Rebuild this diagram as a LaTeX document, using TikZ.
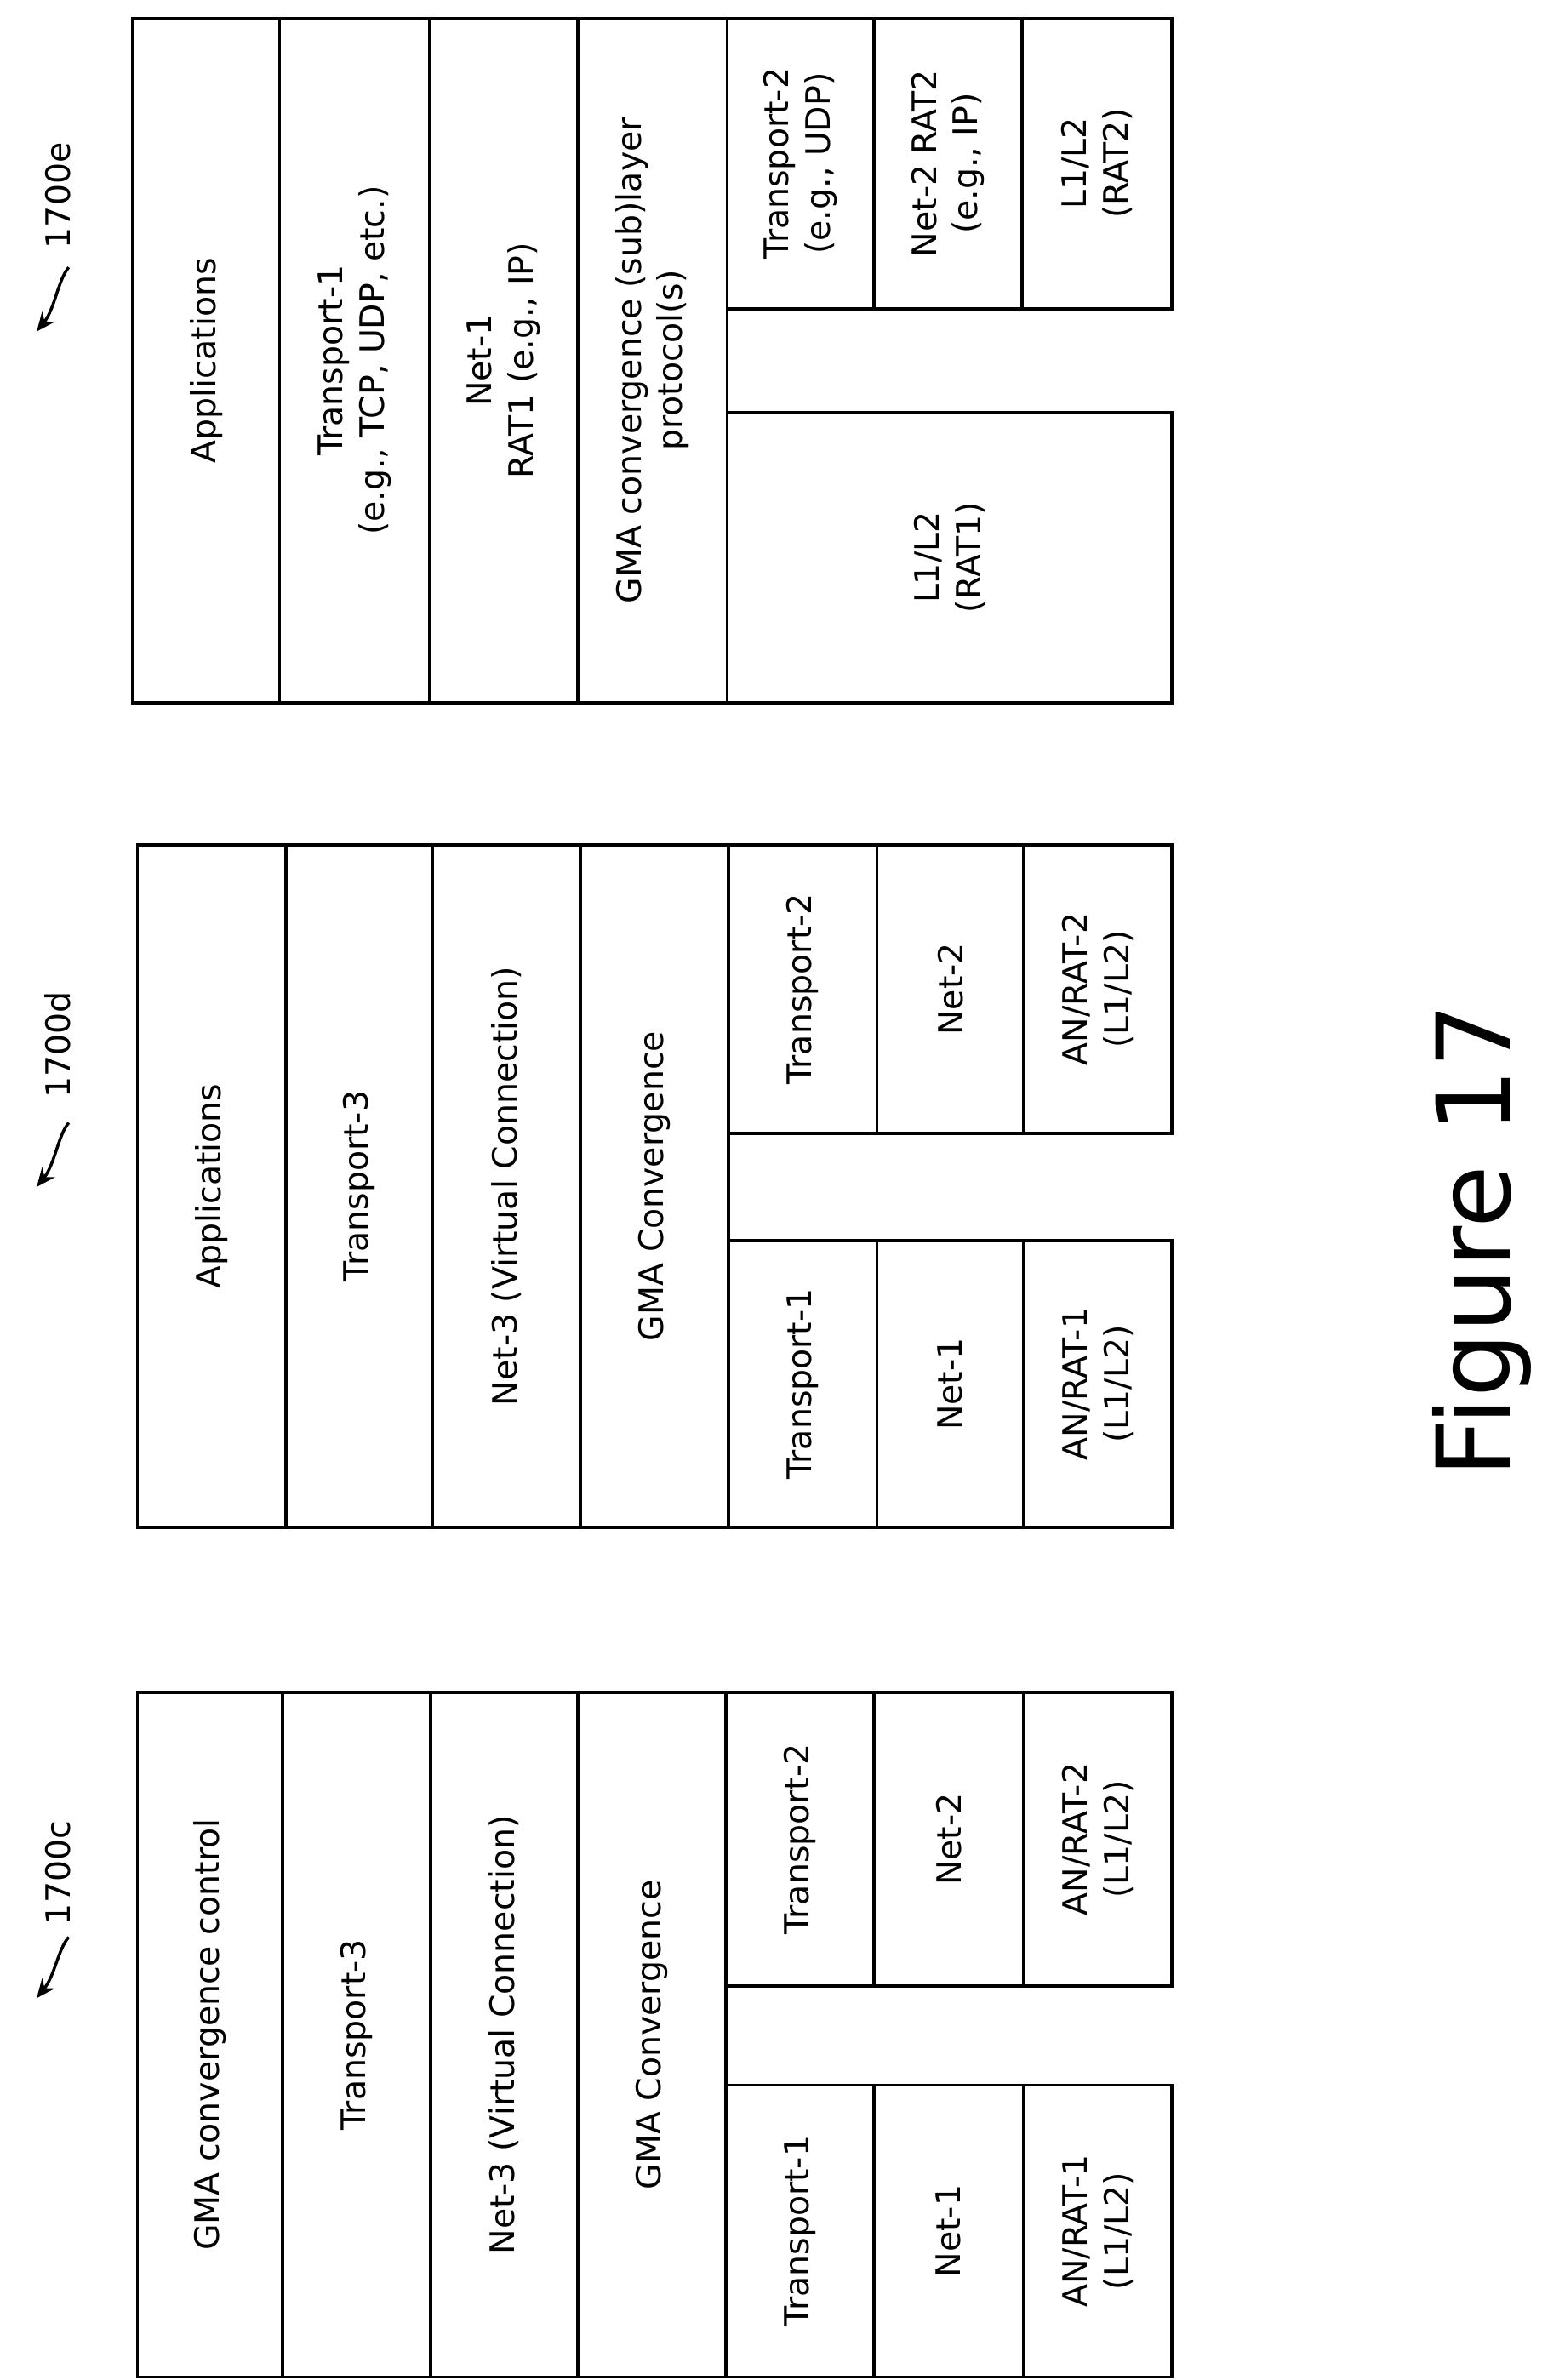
\documentclass[tikz,border=0pt]{standalone}
\usepackage{fontspec}
\setmainfont{DejaVu Sans}
\usetikzlibrary{arrows.meta}
\tikzset{
  layer/.style={draw, line width=1.2pt, rotate=90, inner sep=0pt, align=center,
    font=\fontsize{12.5}{15.5}\selectfont},
  reflabel/.style={rotate=90, font=\fontsize{12.5}{15}\selectfont},
  refarrow/.style={line width=1.1pt, -{Stealth[length=7pt,width=6pt]}}
}
% x1 y1 x2 y2 (in reference pixels)
\newcommand{\layer}[6]{%
  \node[layer, minimum width={(#5-#3)*0.02cm}, minimum height={(#4-#2)*0.02cm}]
    (#1) at ({(#2+#4)/2},{(#3+#5)/2}) {#6};}
\begin{document}
\begin{tikzpicture}[x=0.02cm,y=-0.02cm]
\useasboundingbox (0,0) rectangle (1024,1558);
% 1700c
\layer{ca}{90}{1108}{185}{1556}{GMA convergence control}
\layer{cb}{185}{1108}{282}{1556}{Transport-3}
\layer{cc}{282}{1108}{378}{1556}{Net-3 (Virtual Connection)}
\layer{cd}{378}{1108}{475}{1556}{GMA Convergence}
\layer{ce}{475}{1365}{572}{1556}{Transport-1}
\layer{cf}{572}{1365}{670}{1556}{Net-1}
\layer{cg}{670}{1365}{767}{1556}{AN/RAT-1\\(L1/L2)}
\layer{ch}{475}{1108}{572}{1300}{Transport-2}
\layer{ci}{572}{1108}{670}{1300}{Net-2}
\layer{cj}{670}{1108}{767}{1300}{AN/RAT-2\\(L1/L2)}
\node[reflabel] (lc) at (38,1226) {1700c};
\draw[refarrow] (45,1268) .. controls (38,1276) and (36,1293) .. (24,1308);
% 1700d
\layer{da}{90}{553}{187}{1000}{Applications}
\layer{db}{187}{553}{283}{1000}{Transport-3}
\layer{dc}{283}{553}{380}{1000}{Net-3 (Virtual Connection)}
\layer{dd}{380}{553}{477}{1000}{GMA Convergence}
\layer{de}{477}{812}{574}{1000}{Transport-1}
\layer{df}{574}{812}{670}{1000}{Net-1}
\layer{dg}{670}{812}{767}{1000}{AN/RAT-1\\(L1/L2)}
\layer{dh}{477}{553}{574}{742}{Transport-2}
\layer{di}{574}{553}{670}{742}{Net-2}
\layer{dj}{670}{553}{767}{742}{AN/RAT-2\\(L1/L2)}
\node[reflabel] (ld) at (38,684) {1700d};
\draw[refarrow] (45,735) .. controls (38,743) and (36,762) .. (24,777);
% 1700e
\layer{ea}{87}{12}{183}{460}{Applications}
\layer{eb}{183}{12}{281}{460}{Transport-1\\(e.g., TCP, UDP, etc.)}
\layer{ec}{281}{12}{378}{460}{Net-1\\RAT1 (e.g., IP)}
\layer{ed}{378}{12}{476}{460}{GMA convergence (sub)layer\\protocol(s)}
\layer{ee}{476}{270}{767}{460}{L1/L2\\(RAT1)}
\layer{ef}{476}{12}{572}{202}{Transport-2\\(e.g., UDP)}
\layer{eg}{572}{12}{669}{202}{Net-2 RAT2\\(e.g., IP)}
\layer{eh}{669}{12}{767}{202}{L1/L2\\(RAT2)}
\node[reflabel] (le) at (38,128) {1700e};
\draw[refarrow] (45,175) .. controls (38,183) and (36,202) .. (24,217);
% figure title
\node[rotate=90, font=\fontsize{38}{44}\selectfont] (fig) at (970,812) {Figure 17};
\end{tikzpicture}
\end{document}
